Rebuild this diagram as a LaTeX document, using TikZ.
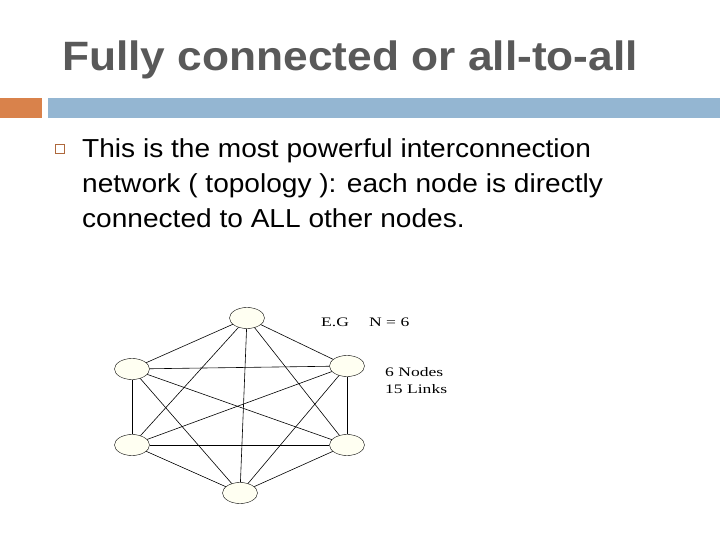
\documentclass[tikz,border=0pt]{standalone}
\usepackage{fontspec}
\setmainfont{Liberation Sans}
\newfontfamily\widesans[FakeStretch=1.08]{Liberation Sans}
\newfontfamily\serifed[FakeStretch=1.35]{Liberation Serif}
\usetikzlibrary{shapes.geometric}
\definecolor{titlegray}{HTML}{595959}
\definecolor{barorange}{HTML}{D9824B}
\definecolor{barblue}{HTML}{94B6D2}
\definecolor{nodefill}{HTML}{FFFFF2}
\begin{document}
\begin{tikzpicture}[x=1pt,y=-1pt,
  vtx/.style={ellipse,draw,thin,fill=nodefill,minimum width=35pt,minimum height=21pt,inner sep=0pt},
  link/.style={draw,line width=0.6pt},
  body/.style={anchor=west,font=\widesans\fontsize{26}{35}\selectfont,align=left,inner sep=0pt},
  small/.style={font=\serifed\fontsize{13}{17}\selectfont,anchor=west,inner sep=0pt,align=left}]
\useasboundingbox (0,0) rectangle (720,540);
\fill[white] (0,0) rectangle (720,540);
\node[anchor=west,inner sep=0pt,text=titlegray,font=\widesans\bfseries\fontsize{41}{48}\selectfont] (title) at (62,60) {Fully connected or all-to-all};
\fill[barorange] (0,98) rectangle (42,118);
\fill[barblue] (48,98) rectangle (720,118);
\node[draw=barorange!80!black,thin,minimum size=9pt,inner sep=0pt] (bullet) at (60,149) {};
\node[body] (txt) at (82,183) {This is the most powerful interconnection\\network ( topology ): each node is directly\\connected to ALL other nodes.};
\node[vtx] (a) at (247,318) {};
\node[vtx] (b) at (347,366) {};
\node[vtx] (c) at (347,445) {};
\node[vtx] (d) at (240,493) {};
\node[vtx] (e) at (132,445) {};
\node[vtx] (f) at (132,369) {};
\foreach \u/\v in {a/b,a/c,a/d,a/e,a/f,b/c,b/d,b/e,b/f,c/d,c/e,c/f,d/e,d/f,e/f}
  \draw[link] (\u) -- (\v);
\node[small] (eg) at (321,322) {E.G};
\node[small] (n6) at (369,322) {N = 6};
\node[small] (info) at (385,381) {6 Nodes\\15 Links};
\end{tikzpicture}
\end{document}
